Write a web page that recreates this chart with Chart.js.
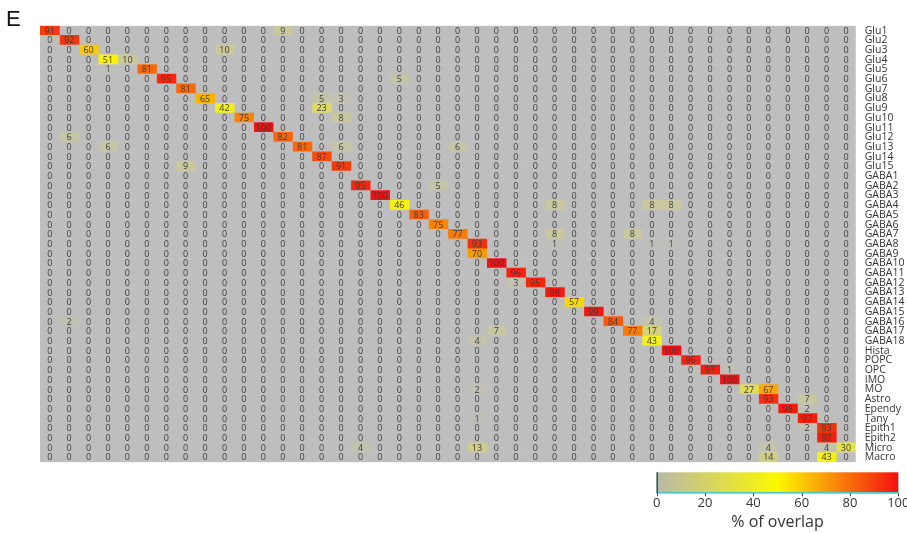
<!DOCTYPE html>
<html>
<head>
<meta charset="utf-8">
<script src="https://cdn.jsdelivr.net/npm/chart.js@4/dist/chart.umd.min.js"></script>
<style>
  html, body { margin: 0; padding: 0; background: #ffffff; }
  #wrap { position: relative; width: 907px; height: 533px; }
</style>
</head>
<body>
<div id="wrap"><canvas id="c" width="907" height="533"></canvas></div>
<script>
// Row (cluster) labels, top to bottom
const rowLabels = [
  'Glu1','Glu2','Glu3','Glu4','Glu5','Glu6','Glu7','Glu8','Glu9','Glu10',
  'Glu11','Glu12','Glu13','Glu14','Glu15',
  'GABA1','GABA2','GABA3','GABA4','GABA5','GABA6','GABA7','GABA8','GABA9','GABA10',
  'GABA11','GABA12','GABA13','GABA14','GABA15','GABA16','GABA17','GABA18',
  'Hista','POPC','OPC','IMO','MO','Astro','Ependy','Tany','Epith1','Epith2','Micro','Macro'
];
// Unlabelled columns (reference clusters), left to right
const columnIds = [1,2,3,4,5,6,7,8,9,10,11,12,13,14,15,16,17,18,19,20,21,
  22,23,24,25,26,27,28,29,30,31,32,33,34,35,36,37,38,39,40,41,42];

// Non-zero cells: row index, column index, % of overlap (all other cells are 0)
const cellRow = [
  0,0, 1, 2,2, 3,3, 4,4, 5,5, 6, 7,7,7, 8,8, 9,9, 10, 11,11, 12,12,12,12, 13, 14,14,
  16,16, 17, 18,18,18,18, 19, 20, 21,21,21, 22,22,22,22, 23, 24, 25, 26,26, 27, 28, 29,
  30,30,30, 31,31,31, 32,32, 33, 34, 35,35, 36, 37,37,37, 38,38, 39,39, 40,40, 41,41, 42,
  43,43,43,43,43, 44,44
];
const cellCol = [
  0,12, 1, 2,9, 3,4, 3,5, 6,18, 7, 8,14,15, 9,14, 10,15, 11, 1,12, 3,13,15,21, 14, 7,15,
  16,20, 17, 18,26,31,32, 19, 20, 21,26,30, 22,26,31,32, 22, 23, 24, 24,25, 26, 27, 28,
  1,29,31, 23,30,31, 22,31, 32, 33, 34,35, 35, 22,36,37, 37,39, 38,39, 22,39, 39,40, 40,
  16,22,37,40,41, 37,40
];
const cellValue = [
  91,9, 92, 60,10, 51,10, 1,81, 95,5, 81, 65,5,3, 42,23, 75,8, 100, 6,82, 6,81,6,6, 87, 9,91,
  95,5, 100, 46,8,8,8, 83, 75, 77,8,8, 93,1,1,1, 70, 100, 96, 3,95, 98, 57, 99,
  2,84,4, 7,77,17, 4,43, 100, 96, 97,1, 100, 2,27,67, 93,7, 98,2, 1,97, 2,93, 97,
  4,13,4,4,30, 14,43
];
// Colour-scale ticks
const scaleTicks = [0, 20, 40, 60, 80, 100];
const scaleTitle = '% of overlap';
const panelLetter = 'E';

// ---- build matrix from the named arrays ----
const matrix = rowLabels.map(() => columnIds.map(() => 0));
cellValue.forEach((v, k) => { matrix[cellRow[k]][cellCol[k]] = v; });

const GRAY = [190, 190, 190], YEL = [252, 248, 0], RED = [244, 16, 16];
function mix(a, b, t) { return a.map((x, i) => Math.round(x + (b[i] - x) * t)); }
function colorFor(v) {
  const c = v <= 50 ? mix(GRAY, YEL, v / 50) : mix(YEL, RED, (v - 50) / 50);
  return 'rgb(' + c.join(',') + ')';
}

const datasets = columnIds.map((id, j) => ({
  label: 'C' + id,
  data: rowLabels.map(() => 1),
  backgroundColor: rowLabels.map((_, r) => colorFor(matrix[r][j])),
  borderWidth: 0,
  barPercentage: 1,
  categoryPercentage: 1
}));

const cellText = {
  id: 'cellText',
  afterDatasetsDraw(chart) {
    const ctx = chart.ctx;
    ctx.save();
    ctx.font = '9px "Open Sans", sans-serif';
    ctx.fillStyle = '#3c3c3c';
    ctx.textAlign = 'center';
    ctx.textBaseline = 'middle';
    chart.data.datasets.forEach((ds, j) => {
      const meta = chart.getDatasetMeta(j);
      meta.data.forEach((el, r) => {
        const cx = (el.x + el.base) / 2;
        ctx.fillText(String(matrix[r][j]), cx, el.y + 0.5);
      });
    });
    ctx.restore();
  }
};

const extras = {
  id: 'extras',
  afterDraw(chart) {
    const ctx = chart.ctx;
    ctx.save();
    // panel letter
    ctx.fillStyle = '#111';
    ctx.font = '22px "Liberation Sans", Arial, sans-serif';
    ctx.textAlign = 'left';
    ctx.textBaseline = 'alphabetic';
    ctx.fillText(panelLetter, 6, 26);
    // colour bar
    const x0 = 656.7, x1 = 898.3, y0 = 472.3, y1 = 493.3;
    const g = ctx.createLinearGradient(x0, 0, x1, 0);
    g.addColorStop(0, 'rgb(184,184,170)');
    g.addColorStop(0.5, colorFor(50));
    g.addColorStop(0.75, colorFor(75));
    g.addColorStop(1, colorFor(100));
    ctx.fillStyle = g;
    ctx.fillRect(x0, y0, x1 - x0, y1 - y0);
    ctx.strokeStyle = '#48c8c8';
    ctx.lineWidth = 1.5;
    ctx.beginPath();
    ctx.moveTo(x0, y1 - 0.5); ctx.lineTo(x1, y1 - 0.5);
    ctx.stroke();
    ctx.strokeStyle = '#1f5a5a';
    ctx.beginPath();
    ctx.moveTo(x0 + 0.5, y0); ctx.lineTo(x0 + 0.5, y1);
    ctx.stroke();
    // ticks + labels
    ctx.strokeStyle = '#444';
    ctx.lineWidth = 1;
    ctx.fillStyle = '#333';
    ctx.font = '13px "Open Sans", sans-serif';
    ctx.textAlign = 'center';
    ctx.textBaseline = 'middle';
    scaleTicks.forEach(t => {
      const x = x0 + (x1 - x0) * t / 100;
      ctx.beginPath();
      ctx.moveTo(Math.round(x) + 0.5, y1);
      ctx.lineTo(Math.round(x) + 0.5, y1 + 3);
      ctx.stroke();
      ctx.fillText(String(t), x, 503.5);
    });
    ctx.font = '16px "Open Sans", sans-serif';
    ctx.fillText(scaleTitle, (x0 + x1) / 2, 522);
    ctx.restore();
  }
};

new Chart(document.getElementById('c'), {
  type: 'bar',
  data: { labels: rowLabels, datasets },
  options: {
    indexAxis: 'y',
    responsive: false,
    maintainAspectRatio: false,
    devicePixelRatio: 1,
    animation: false,
    layout: { padding: { left: 40, top: 25.7, right: 0, bottom: 70.8 } },
    plugins: { legend: { display: false }, tooltip: { enabled: false }, title: { display: false } },
    scales: {
      x: { type: 'linear', stacked: true, min: 0, max: columnIds.length, display: false },
      y: {
        type: 'category',
        stacked: true,
        position: 'right',
        offset: true,
        grid: { display: false, drawTicks: false },
        border: { display: false },
        ticks: {
          padding: 9,
          color: '#333',
          font: { family: '"Open Sans", sans-serif', size: 10.5 },
          autoSkip: false,
          maxRotation: 0
        },
        afterFit(s) { s.width = 51.3; }
      }
    }
  },
  plugins: [cellText, extras]
});
</script>
</body>
</html>
